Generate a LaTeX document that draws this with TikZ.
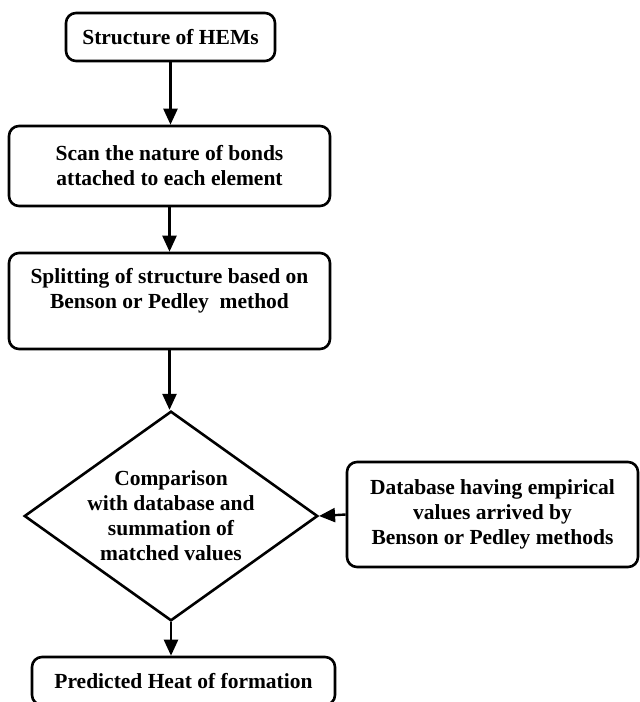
\documentclass[tikz,border=0pt]{standalone}
\usepackage{fontspec}
\setmainfont{Liberation Serif}
\usetikzlibrary{shapes.geometric}
\usetikzlibrary{arrows.meta}

\begin{document}
\begin{tikzpicture}[x = 1pt, y = -1pt,
    box/.style = {draw, line width = 2.6pt, rounded corners = 10pt, align = center, inner sep = 0pt,
                  font = \fontsize{21.5}{25}\selectfont\bfseries},
    decide/.style = {draw, diamond, line width = 2.6pt, aspect = 1.4, inner sep = 0pt, align = center,
                     font = \fontsize{21.5}{25}\selectfont\bfseries},
    flow/.style = {line width = 2.4pt, -{Triangle[width = 14pt, length = 16pt]}}]

    \useasboundingbox (0,0) rectangle (640,702);

    \node[box, minimum width = 209pt, minimum height = 48pt] at (170.5,37) (hems) {Structure of HEMs};
    \node[box, minimum width = 321pt, minimum height = 80pt] at (169.5,166) (scan)
        {Scan the nature of bonds\\attached to each element};
    \node[box, minimum width = 321pt, minimum height = 96pt] at (169.5,301) (split)
        {Splitting of structure based on\\Benson or Pedley\ \ method\\ ~};
    \node[decide, minimum width = 292pt, minimum height = 208pt] at (171,516) (cmp)
        {Comparison\\with database and\\summation of\\matched values};
    \node[box, minimum width = 291pt, minimum height = 105pt] at (492.5,514.5) (db)
        {Database having empirical\\values arrived by\\Benson or Pedley methods};
    \node[box, minimum width = 303pt, minimum height = 48pt] at (183.5,681) (pred) {Predicted Heat of formation};

    % connectors
    \foreach \a/\b in {hems/scan, scan/split, split/cmp}{
        \draw[flow] (\a.south) -- (\a.south |- \b.north);
    }
    \draw[flow] (cmp.south) -- (cmp.south |- pred.north);
    \draw[flow] (db.west) -- (cmp.east);

\end{tikzpicture}
\end{document}
